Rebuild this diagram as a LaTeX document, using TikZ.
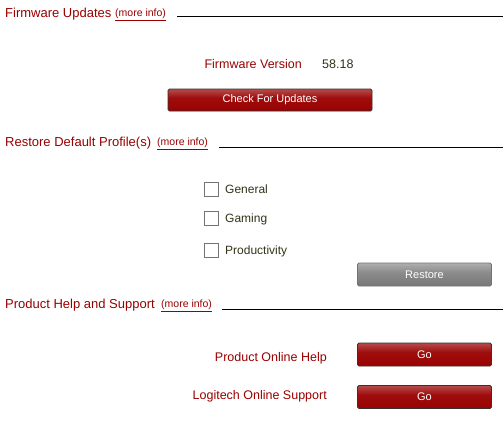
\documentclass[tikz,border=0pt]{standalone}
\usepackage{fontspec}
\setmainfont{Liberation Sans}
\definecolor{lred}{HTML}{990000}
\definecolor{ltxt}{HTML}{33331A}
\definecolor{btnborder}{HTML}{3A3030}
\pgfdeclareverticalshading{redbtn}{100bp}{color(0bp)=(lred!70!black); color(20bp)=(lred); color(55bp)=(lred!95!white); color(100bp)=(lred!40!white)}
\pgfdeclareverticalshading{graybtn}{100bp}{color(0bp)=(black!62); color(20bp)=(black!55); color(55bp)=(black!45); color(100bp)=(black!15)}
\tikzset{
  heading/.style={anchor=west, inner sep=0pt, text=lred, font=\fontsize{13}{13}\selectfont},
  moreinfo/.style={anchor=west, inner sep=0pt, text=lred, font=\fontsize{10.5}{10.5}\selectfont},
  sepline/.style={draw=black, line width=1pt},
  label/.style={inner sep=0pt, text=lred, font=\fontsize{12.5}{12.5}\selectfont},
  value/.style={inner sep=0pt, text=ltxt, font=\fontsize{12.5}{12.5}\selectfont},
  redbutton/.style={draw=btnborder, line width=0.8pt, rounded corners=1.5pt, shading=redbtn, minimum height=22pt, text=white, font=\fontsize{11}{11}\selectfont, inner sep=0pt},
  graybutton/.style={draw=black!55, line width=0.8pt, rounded corners=1.5pt, shading=graybtn, minimum height=22pt, text=white, font=\fontsize{11}{11}\selectfont, inner sep=0pt},
  chk/.style={draw=black!55, fill=white, line width=0.8pt, minimum width=14pt, minimum height=14pt, inner sep=0pt},
  chklabel/.style={anchor=west, inner sep=0pt, text=ltxt, font=\fontsize{12}{12}\selectfont},
}
\begin{document}
\begin{tikzpicture}[x=1pt,y=-1pt]
\path[use as bounding box, fill=white] (0,0) rectangle (503,436);

% Firmware Updates
\node[heading] (h1) at (5,14) {Firmware Updates};
\node[moreinfo] (m1) at (115,14.5) {\underline{(more info)}};
\coordinate (l1a) at (177,17);
\coordinate (l1b) at (503,17);
\draw[sepline] (l1a) -- (l1b);
\node[label, anchor=east] (fv) at (302,64) {Firmware Version};
\node[value, anchor=west] (fvv) at (322,64) {58.18};
\node[redbutton, minimum width=204pt] (cfu) at (270,100) {Check For Updates};

% Restore Default Profiles
\node[heading] (h2) at (5,143.5) {Restore Default Profile(s)};
\node[moreinfo] (m2) at (157,144) {\underline{(more info)}};
\coordinate (l2a) at (219,147);
\coordinate (l2b) at (503,147);
\draw[sepline] (l2a) -- (l2b);
\node[chk] (c1) at (211,189) {};
\node[chklabel] (t1) at (225,189) {General};
\node[chk] (c2) at (211,218.5) {};
\node[chklabel] (t2) at (225,219) {Gaming};
\node[chk] (c3) at (211,250.5) {};
\node[chklabel] (t3) at (225,251) {Productivity};
\node[graybutton, minimum width=134pt, minimum height=23pt] (rst) at (424.5,274.5) {Restore};

% Product Help and Support
\node[heading] (h3) at (5,305.5) {Product Help and Support};
\node[moreinfo] (m3) at (161,306) {\underline{(more info)}};
\coordinate (l3a) at (222,309);
\coordinate (l3b) at (503,309);
\draw[sepline] (l3a) -- (l3b);
\node[label, anchor=east] (poh) at (327,358) {Product Online Help};
\node[redbutton, minimum width=134pt, minimum height=23pt] (go1) at (424.5,354.5) {Go};
\node[label, anchor=east] (los) at (327,396) {Logitech Online Support};
\node[redbutton, minimum width=134pt, minimum height=23pt] (go2) at (424.5,397) {Go};
\end{tikzpicture}
\end{document}
